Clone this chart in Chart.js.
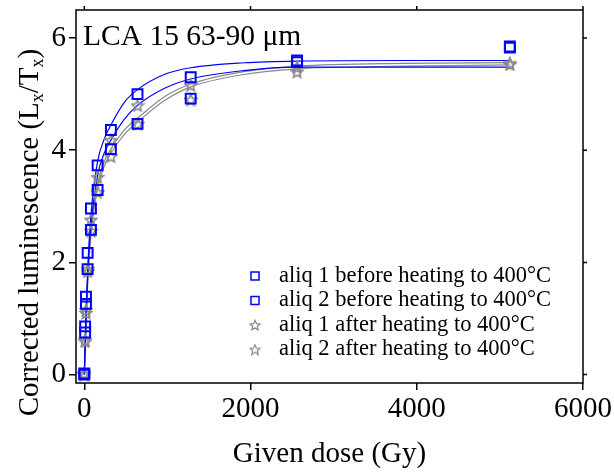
<!DOCTYPE html>
<html>
<head>
<meta charset="utf-8">
<script src="https://cdn.jsdelivr.net/npm/chart.js@4.4.0/dist/chart.umd.min.js"></script>
<style>
html, body { margin: 0; padding: 0; background: #fff; }
#wrap { width: 614px; height: 472px; }
</style>
</head>
<body>
<div id="wrap"><canvas id="myChart" width="614" height="472"></canvas></div>
<script>
// measured points (dose in Gy, corrected Lx/Tx)
var doses = [0, 10, 20, 40, 80, 160, 320, 640, 1280, 2560, 5120];
var aliq1Before = [0.02, 0.86, 1.39, 2.17, 2.96, 3.73, 4.36, 5.00, 5.30, 5.60, 5.85];
var aliq2Before = [0.00, 0.75, 1.26, 1.88, 2.58, 3.29, 4.02, 4.47, 4.92, 5.57, 5.83];
var aliq1After = [0.02, 0.62, 1.15, 1.88, 2.76, 3.52, 4.18, 4.80, 5.16, 5.48, 5.55];
var aliq2After = [0.00, 0.59, 1.10, 1.84, 2.56, 3.25, 3.89, 4.47, 4.90, 5.40, 5.53];

// fitted growth curves
var fitDoses = [0, 10, 20, 40, 80, 160, 240, 320, 480, 640, 960, 1280, 1920, 2560, 3840, 5120];
var fit1Before = [0, 0.55, 1.05, 1.85, 2.85, 3.80, 4.20, 4.45, 4.85, 5.08, 5.35, 5.47, 5.56, 5.59, 5.60, 5.60];
var fit2Before = [0, 0.50, 1.00, 1.75, 2.65, 3.55, 3.95, 4.18, 4.55, 4.80, 5.10, 5.27, 5.42, 5.48, 5.48, 5.48];
var fit1After = [0, 0.45, 0.90, 1.65, 2.55, 3.40, 3.80, 4.02, 4.36, 4.57, 4.95, 5.18, 5.40, 5.50, 5.55, 5.56];
var fit2After = [0, 0.42, 0.85, 1.60, 2.50, 3.32, 3.72, 3.95, 4.28, 4.50, 4.88, 5.13, 5.35, 5.45, 5.50, 5.52];

var xTicks = [0, 2000, 4000, 6000];
var yTicks = [0, 2, 4, 6];
var labels = [
	"aliq 1 before heating to 400°C",
	"aliq 2 before heating to 400°C",
	"aliq 1 after heating to 400°C",
	"aliq 2 after heating to 400°C"
];
var titleText = "LCA 15 63-90 μm";

var FONT = "'Liberation Serif', 'Times New Roman', serif";
var BLUE = '#0000ff';
var GREY = '#888888';

function pts(xs, ys){
	var out = [];
	for (var i in xs){
		out.push({x: xs[i], y: ys[i]});
	}
	return out;
}

function makeStar(size, color, lw){
	var c = document.createElement('canvas');
	c.width = size; c.height = size;
	var g = c.getContext('2d');
	var cx = size / 2, cy = size / 2 + 0.6;
	var R = size / 2 - lw * 0.6, r = R * 0.45;
	g.beginPath();
	for (var i = 0; i < 10; i++){
		var a = -Math.PI / 2 + i * Math.PI / 5;
		var rr = (i % 2) ? r : R;
		g.lineTo(cx + rr * Math.cos(a), cy + rr * Math.sin(a));
	}
	g.closePath();
	g.strokeStyle = color;
	g.lineWidth = lw;
	g.lineJoin = 'miter';
	g.stroke();
	return c;
}
var star = makeStar(14, GREY, 1.6);
var smallStar = makeStar(12, GREY, 1.2);

function markerSet(label, data, isStar){
	return {
		type: 'scatter',
		label: label,
		data: data,
		showLine: false,
		pointStyle: isStar ? star : 'rect',
		pointRadius: 7,
		pointBorderWidth: 2,
		borderColor: isStar ? GREY : BLUE,
		backgroundColor: 'rgba(0,0,0,0)'
	};
}
function fitSet(data, color){
	return {
		type: 'line',
		label: '',
		data: data,
		borderColor: color,
		borderWidth: 1.2,
		pointRadius: 0,
		fill: false,
		cubicInterpolationMode: 'monotone'
	};
}

var framePlugin = {
	id: 'frame',
	afterDraw: function(chart){
		var ctx = chart.ctx, a = chart.chartArea;
		var xs = chart.scales.x, ys = chart.scales.y;
		ctx.save();
		ctx.strokeStyle = '#000';
		ctx.lineWidth = 1.5;
		ctx.strokeRect(a.left, a.top, a.right - a.left, a.bottom - a.top);
		// small ticks on top and right sides
		ctx.beginPath();
		xTicks.forEach(function(v){
			var px = xs.getPixelForValue(v);
			ctx.moveTo(px, a.top); ctx.lineTo(px, a.top - 4);
		});
		yTicks.forEach(function(v){
			var py = ys.getPixelForValue(v);
			ctx.moveTo(a.right, py); ctx.lineTo(a.right + 4, py);
		});
		ctx.stroke();

		// title in the corner
		ctx.fillStyle = '#000';
		ctx.font = '29.5px ' + FONT;
		ctx.textBaseline = 'middle';
		ctx.textAlign = 'left';
		ctx.fillText(titleText, a.left + 7, a.top + 27);

		// y axis title with subscripts
		var parts = [['Corrected luminescence (L', 0], ['x', 1], ['/T', 0], ['x', 1], [')', 0]];
		var total = 0;
		parts.forEach(function(p){
			ctx.font = (p[1] ? '18px ' : '29px ') + FONT;
			total += ctx.measureText(p[0]).width;
		});
		ctx.translate(30, (a.top + a.bottom) / 2 + 36);
		ctx.rotate(-Math.PI / 2);
		var x = -total / 2;
		parts.forEach(function(p){
			ctx.font = (p[1] ? '18px ' : '29px ') + FONT;
			ctx.fillText(p[0], x, p[1] ? 8 : 0);
			x += ctx.measureText(p[0]).width;
		});
		ctx.restore();

		// legend
		ctx.save();
		ctx.font = '22.5px ' + FONT;
		ctx.textBaseline = 'middle';
		ctx.fillStyle = '#000';
		for (var i = 0; i < labels.length; i++){
			var ly = 276 + i * 24.5;
			if (i < 2){
				ctx.strokeStyle = BLUE;
				ctx.lineWidth = 1.5;
				ctx.strokeRect(251, ly - 4, 8, 8);
			} else {
				ctx.drawImage(smallStar, 249, ly - 6);
			}
			ctx.fillText(labels[i], 279, ly);
		}
		ctx.restore();
	}
};

var ctx = document.getElementById('myChart');

var chart = new Chart(ctx, {
	data: {
		datasets: [
			markerSet(labels[0], pts(doses, aliq1Before), false),
			markerSet(labels[1], pts(doses, aliq2Before), false),
			markerSet(labels[2], pts(doses, aliq1After), true),
			markerSet(labels[3], pts(doses, aliq2After), true),
			fitSet(pts(fitDoses, fit1Before), BLUE),
			fitSet(pts(fitDoses, fit2Before), BLUE),
			fitSet(pts(fitDoses, fit1After), GREY),
			fitSet(pts(fitDoses, fit2After), GREY)
		]
	},
	options: {
		responsive: false,
		animation: false,
		layout: { padding: { top: 10, right: 31, left: 0, bottom: 0 } },
		plugins: {
			legend: { display: false },
			tooltip: { enabled: false }
		},
		scales: {
			x: {
				type: 'linear',
				min: -100,
				max: 6000,
				afterBuildTicks: function(s){ s.ticks = xTicks.map(function(v){ return {value: v}; }); },
				afterFit: function(s){ s.height = 89; s.paddingLeft = 0; s.paddingRight = 0; },
				border: { display: false },
				grid: { drawOnChartArea: false, drawTicks: true, tickLength: 7, color: '#000', lineWidth: 1.5 },
				ticks: {
					color: '#000', font: { family: FONT, size: 29 }, padding: 2, maxRotation: 0,
					callback: function(v){ return String(v); }
				},
				title: { display: true, text: 'Given dose (Gy)', color: '#000', font: { family: FONT, size: 29 }, padding: { top: 0, bottom: 0 } }
			},
			y: {
				type: 'linear',
				min: -0.15,
				max: 6.5,
				afterBuildTicks: function(s){ s.ticks = yTicks.map(function(v){ return {value: v}; }); },
				afterFit: function(s){ s.width = 76; s.paddingTop = 0; s.paddingBottom = 0; },
				border: { display: false },
				grid: { drawOnChartArea: false, drawTicks: true, tickLength: 7, color: '#000', lineWidth: 1.5 },
				ticks: { color: '#000', font: { family: FONT, size: 29 }, padding: 3 }
			}
		}
	},
	plugins: [framePlugin]
});
</script>
</body>
</html>
